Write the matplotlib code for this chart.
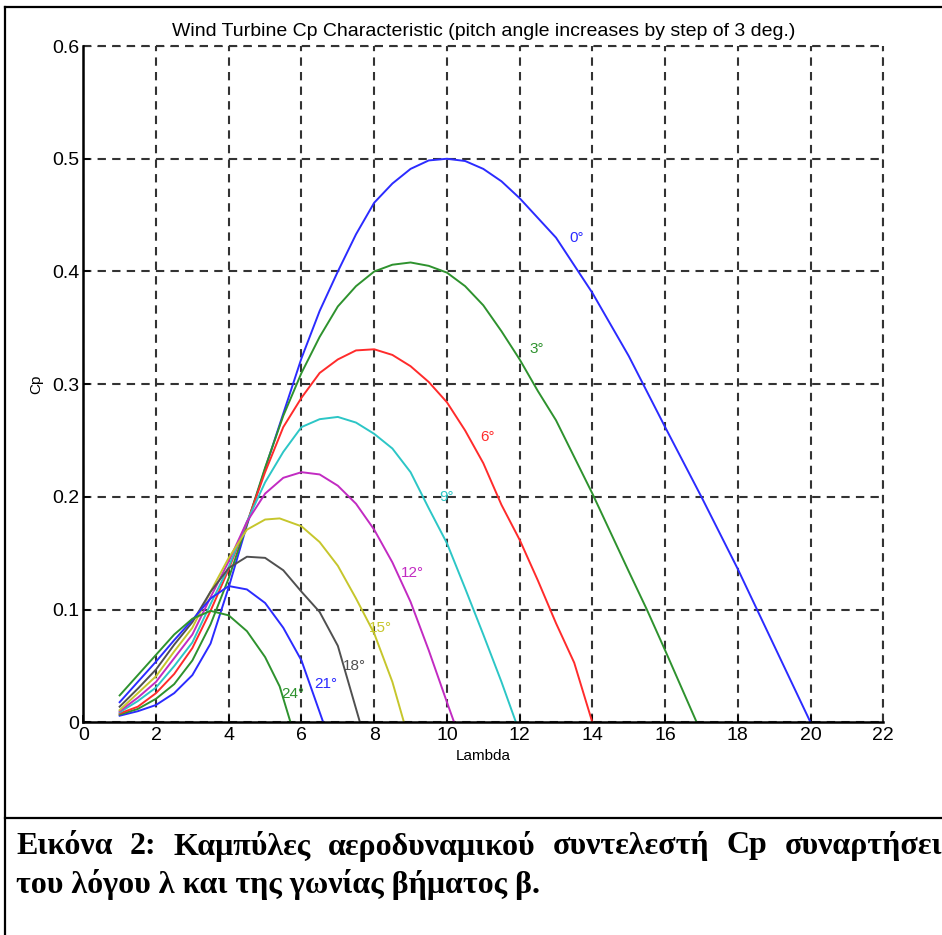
import matplotlib
matplotlib.use('Agg')
import matplotlib.pyplot as plt
from matplotlib import font_manager
from matplotlib.lines import Line2D

# Cp curves, one per pitch angle
lam_0 = [1, 1.5, 2, 2.5, 3, 3.5, 4, 4.5, 5, 5.5, 6, 6.5, 7, 7.5, 8, 8.5, 9, 9.5, 10, 10.5, 11, 11.5, 12, 13, 14,
         15, 16, 17, 18, 19, 20]
cp_0 = [0.006, 0.010, 0.0155, 0.026, 0.042, 0.070, 0.120, 0.175, 0.225, 0.274, 0.323, 0.365, 0.400, 0.433, 0.461,
        0.478, 0.491, 0.4985, 0.500, 0.498, 0.491, 0.480, 0.465, 0.430, 0.381, 0.325, 0.262, 0.200, 0.136, 0.068, 0.0]

lam_3 = [1, 1.5, 2, 2.5, 3, 3.5, 4, 4.5, 5, 5.5, 6, 6.5, 7, 7.5, 8, 8.5, 9, 9.5, 10, 10.5, 11, 11.5, 12, 12.5, 13,
         14, 15, 15.5, 16, 16.87]
cp_3 = [0.007, 0.012, 0.021, 0.034, 0.055, 0.087, 0.128, 0.176, 0.226, 0.272, 0.310, 0.342, 0.369, 0.387, 0.400,
        0.406, 0.408, 0.405, 0.399, 0.387, 0.370, 0.347, 0.322, 0.294, 0.268, 0.203, 0.134, 0.100, 0.064, 0.0]

lam_6 = [1, 1.5, 2, 2.5, 3, 3.5, 4, 4.5, 5, 5.5, 6, 6.5, 7, 7.5, 8, 8.5, 9, 9.5, 10, 10.5, 11, 11.5, 12, 12.5, 13,
         13.5, 14]
cp_6 = [0.008, 0.014, 0.026, 0.043, 0.066, 0.099, 0.136, 0.177, 0.222, 0.262, 0.288, 0.310, 0.322, 0.330, 0.331,
        0.326, 0.316, 0.302, 0.284, 0.259, 0.230, 0.193, 0.162, 0.126, 0.088, 0.053, 0.0]

lam_9 = [1, 1.5, 2, 2.5, 3, 3.5, 4, 4.5, 5, 5.5, 6, 6.5, 7, 7.5, 8, 8.5, 9, 9.5, 10, 10.5, 11, 11.5, 11.9]
cp_9 = [0.009, 0.019, 0.031, 0.050, 0.071, 0.105, 0.138, 0.178, 0.213, 0.240, 0.262, 0.269, 0.271, 0.266, 0.256,
        0.243, 0.222, 0.190, 0.159, 0.119, 0.078, 0.036, 0.0]

lam_12 = [1, 1.5, 2, 2.5, 3, 3.5, 4, 4.5, 5, 5.5, 6, 6.5, 7, 7.5, 8, 8.5, 9, 9.5, 10, 10.2]
cp_12 = [0.010, 0.022, 0.036, 0.057, 0.078, 0.111, 0.143, 0.178, 0.203, 0.217, 0.222, 0.220, 0.210, 0.194, 0.171,
         0.142, 0.107, 0.064, 0.018, 0.0]

lam_15 = [1, 1.5, 2, 2.5, 3, 3.5, 4, 4.5, 5, 5.4, 6, 6.5, 7, 7.5, 8, 8.5, 8.82]
cp_15 = [0.011, 0.026, 0.041, 0.063, 0.084, 0.116, 0.146, 0.171, 0.180, 0.181, 0.174, 0.160, 0.139, 0.110, 0.079,
         0.036, 0.0]

lam_18 = [1, 1.5, 2, 2.5, 3, 3.5, 4, 4.5, 5, 5.5, 6, 6.5, 7, 7.61]
cp_18 = [0.014, 0.030, 0.047, 0.069, 0.089, 0.116, 0.137, 0.147, 0.146, 0.135, 0.116, 0.098, 0.068, 0.0]

lam_21 = [1, 1.5, 2, 2.5, 3, 3.5, 4, 4.5, 5, 5.5, 6, 6.6]
cp_21 = [0.018, 0.036, 0.054, 0.073, 0.091, 0.110, 0.121, 0.118, 0.106, 0.084, 0.055, 0.0]

lam_24 = [1, 1.5, 2, 2.5, 3, 3.5, 4, 4.5, 5, 5.4, 5.7]
cp_24 = [0.024, 0.042, 0.060, 0.078, 0.092, 0.099, 0.095, 0.081, 0.058, 0.032, 0.0]

pitch_labels = ['0°', '3°', '6°', '9°', '12°', '15°', '18°', '21°', '24°']
# where each pitch label sits (lambda, Cp)
label_lam = [13.58, 12.48, 11.11, 9.98, 9.04, 8.16, 7.45, 6.68, 5.77]
label_cp = [0.430, 0.331, 0.253, 0.200, 0.133, 0.084, 0.050, 0.034, 0.025]

x_ticks = list(range(0, 23, 2))
y_ticks = [0, 0.1, 0.2, 0.3, 0.4, 0.5, 0.6]
y_tick_labels = ['0', '0.1', '0.2', '0.3', '0.4', '0.5', '0.6']

caption_1 = 'Εικόνα 2: Καμπύλες αεροδυναμικού συντελεστή Cp συναρτήσει'
caption_2 = 'του λόγου λ και της γωνίας βήματος β.'

curves = [(lam_0, cp_0), (lam_3, cp_3), (lam_6, cp_6), (lam_9, cp_9), (lam_12, cp_12),
          (lam_15, cp_15), (lam_18, cp_18), (lam_21, cp_21), (lam_24, cp_24)]
colors = ['#2b2bff', '#2e922e', '#ff2b2b', '#2cc6c6', '#c22bc2', '#c6c62c', '#505050', '#2b2bff', '#2e922e']

# narrow sans if we have it (the original is a condensed Helvetica look)
names = {f.name for f in font_manager.fontManager.ttflist}
sans = 'Liberation Sans Narrow' if 'Liberation Sans Narrow' in names else 'Liberation Sans'

fig = plt.figure(figsize=(9.42, 9.35), dpi=100)
ax = fig.add_axes([0.0884, 0.2273, 0.8493, 0.7235])

for (lam, cp), c in zip(curves, colors):
    ax.plot(lam, cp, color=c, lw=1.4)

for txt, lx, ly, c in zip(pitch_labels, label_lam, label_cp, colors):
    ax.text(lx, ly, txt, color=c, fontsize=11, ha='center', va='center', family=[sans, 'DejaVu Sans'])

ax.set_xlim(0, 22)
ax.set_ylim(0, 0.6)
ax.set_xticks(x_ticks)
ax.set_yticks(y_ticks)
ax.set_yticklabels(y_tick_labels)
for lbl in ax.get_xticklabels() + ax.get_yticklabels():
    lbl.set_family(sans)
    lbl.set_fontsize(14)
ax.tick_params(direction='in', length=5, width=1.2, pad=3)

ax.grid(True, color='#333333', linestyle=(0, (4, 3)), lw=1.5)
ax.spines['top'].set_visible(False)
ax.spines['right'].set_visible(False)
ax.spines['left'].set_linewidth(1.8)
ax.spines['bottom'].set_linewidth(1.8)

# MATLAB-style: the top and right grid lines act as a dashed box
ax.axhline(0.6, color='#333333', linestyle=(0, (4, 3)), lw=1.5, clip_on=False)
ax.axvline(22, color='#333333', linestyle=(0, (4, 3)), lw=1.5, clip_on=False)

ax.set_title('Wind Turbine Cp Characteristic (pitch angle increases by step of 3 deg.)',
             family=sans, fontsize=14, pad=7)
ax.set_xlabel('Lambda', family=sans, fontsize=11, labelpad=4)
ax.set_ylabel('Cp', family=sans, fontsize=11, labelpad=6)

# document frame around figure + caption
lw_frame = 1.6
fig.add_artist(Line2D([0.0053, 0.0053], [0.0, 0.9925], color='black', lw=lw_frame, transform=fig.transFigure))
fig.add_artist(Line2D([0.0053, 1.0], [0.9925, 0.9925], color='black', lw=lw_frame, transform=fig.transFigure))
fig.add_artist(Line2D([0.0053, 1.0], [0.1251, 0.1251], color='black', lw=lw_frame, transform=fig.transFigure))

# justified first caption line: spread the words across the width
serif = ['Liberation Serif', 'DejaVu Serif']
cap_size = 23
x_left, x_right = 16 / 942, 1.0
y1 = 1 - 846 / 935
y2 = 1 - 884 / 935
renderer = fig.canvas.get_renderer()
words = caption_1.split(' ')
artists = [fig.text(0, y1, w, family=serif, weight='bold', fontsize=cap_size, va='center') for w in words]
widths = [a.get_window_extent(renderer).width / fig.bbox.width for a in artists]
gap = (x_right - x_left - sum(widths)) / (len(words) - 1)
xpos = x_left
for a, w in zip(artists, widths):
    a.set_x(xpos)
    xpos += w + gap
fig.text(x_left, y2, caption_2, family=serif, weight='bold', fontsize=cap_size, va='center')

fig.savefig('out.png', dpi=100)
